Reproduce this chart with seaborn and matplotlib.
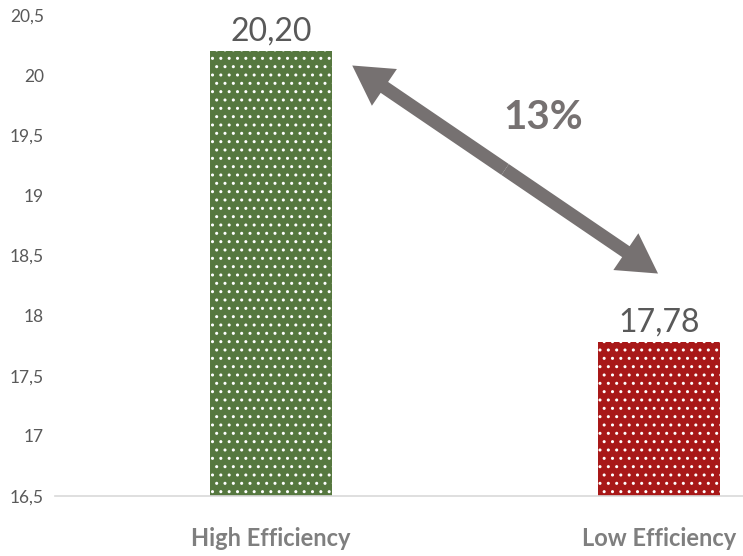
import matplotlib
matplotlib.use("Agg")
import matplotlib.pyplot as plt
import seaborn as sns
import pandas as pd
from matplotlib.ticker import FuncFormatter

# data
categories = ["High Efficiency", "Low Efficiency"]
values = [20.20, 17.78]
bar_colors = ["#548235", "#c00000"]
diff_label = "13%"

sns.set_theme(style="white")
plt.rcParams["font.family"] = ["Lato", "DejaVu Sans"]
plt.rcParams["hatch.color"] = "white"
plt.rcParams["hatch.linewidth"] = 1.0

df = pd.DataFrame({"cat": categories, "val": values})

fig = plt.figure(figsize=(7.43, 5.56), dpi=100)
ax = fig.add_axes([55 / 743, 60 / 556, 688 / 743, 481 / 556])

sns.barplot(data=df, x="cat", y="val", hue="cat", palette=bar_colors,
            width=0.314, legend=False, ax=ax)

for p in ax.patches:
    p.set_hatch("..")
    p.set_edgecolor("white")
    p.set_linewidth(0)

ax.set_ylim(16.5, 20.5)
ax.set_xlim(-0.557, 1.216)
ax.set_yticks([16.5 + 0.5 * i for i in range(9)])
ax.yaxis.set_major_formatter(FuncFormatter(lambda v, _: f"{v:g}".replace(".", ",")))
ax.tick_params(axis="y", labelsize=12.5, labelcolor="#595959", length=0, pad=8)
ax.tick_params(axis="x", labelsize=17, labelcolor="#7f7f7f", length=0, pad=22)
for lab in ax.get_xticklabels():
    lab.set_fontweight("bold")
ax.set_xlabel("")
ax.set_ylabel("")

for s in ["top", "right", "left"]:
    ax.spines[s].set_visible(False)
ax.spines["bottom"].set_color("#d9d9d9")
ax.spines["bottom"].set_linewidth(1.2)

# value labels
for i, v in enumerate(values):
    ax.annotate(f"{v:.2f}".replace(".", ","), (i, v), xytext=(0, 3),
                textcoords="offset points", ha="center", va="bottom",
                fontsize=23, color="#595959")

# double arrow between the bars
start = (0.209, 20.08)
end = (0.997, 18.35)
mid = ((start[0] + end[0]) / 2, (start[1] + end[1]) / 2)
for tip in (start, end):
    ax.annotate("", xy=tip, xytext=mid,
                arrowprops=dict(arrowstyle="simple,head_length=2.8,head_width=3.2,tail_width=0.95",
                                color="#767171", lw=0, shrinkA=0, shrinkB=0,
                                mutation_scale=10))

ax.text(0.70, 19.65, diff_label, ha="center", va="center", fontsize=29,
        fontweight="bold", color="#767171")

fig.savefig("out.png", dpi=100)
